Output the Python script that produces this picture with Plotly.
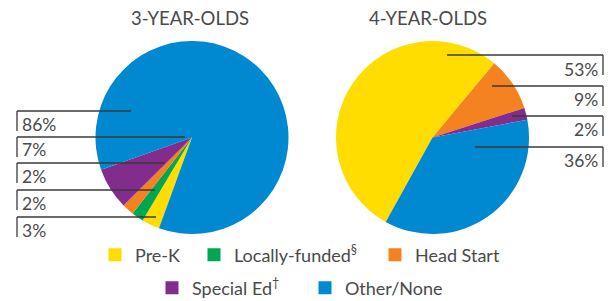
import plotly.graph_objects as go

# ---- data ----
categories = ["Pre-K", "Locally-funded", "Head Start", "Special Ed", "Other/None"]
legend_names = ["Pre-K", "Locally-funded<sup>§</sup>", "Head Start", "Special Ed<sup>†</sup>", "Other/None"]
colors = ["#FFDD00", "#00A651", "#F58220", "#822C8E", "#0089D0"]
three_year = [3, 2, 2, 7, 86]
four_year = [53, 0, 9, 2, 36]
titles = ["3-YEAR-OLDS", "4-YEAR-OLDS"]

# label order (top to bottom) for the callouts
left_label_order = ["Other/None", "Special Ed", "Head Start", "Locally-funded", "Pre-K"]
right_label_order = ["Pre-K", "Head Start", "Special Ed", "Other/None"]

W, H = 613, 301
def px(x):
    return x / W
def py(y):
    return 1 - y / H

FONT = "Lato"
TXT = "#4A4A4A"
LINE = "#3A3A3A"

fig = go.Figure()

R = 96.5
centers = [(192, 137.5), (432.5, 137.5)]
rotations = [200, 209]
for vals, (cx, cy), rot in zip([three_year, four_year], centers, rotations):
    fig.add_trace(go.Pie(
        labels=categories, values=vals, sort=False, direction="clockwise",
        rotation=rot, textinfo="none", showlegend=False,
        marker=dict(colors=colors, line=dict(width=0)),
        domain=dict(x=[px(cx - R), px(cx + R)], y=[py(cy + R), py(cy - R)]),
    ))

# legend layout: (text start x, row center y) in pixels for each entry
legend_text_x = [132, 231, 412, 189, 342]
legend_row_y = [255, 255, 255, 288, 288]

leg_layout = {}
for i, (nm, c) in enumerate(zip(legend_names, colors)):
    key = "legend" if i == 0 else f"legend{i + 1}"
    fig.add_trace(go.Scatter(
        x=[None], y=[None], mode="markers", name=nm,
        marker=dict(symbol="square", size=13, color=c),
        legend=key, hoverinfo="skip",
    ))
    leg_layout[key] = dict(
        orientation="h", xanchor="left", x=px(legend_text_x[i] - 37),
        yanchor="middle", y=py(legend_row_y[i]),
        font=dict(family=FONT, size=18, color=TXT), bgcolor="rgba(0,0,0,0)",
        borderwidth=0, itemwidth=30,
    )

shapes = []
annotations = []

# titles
for t, x in zip(titles, [190, 428]):
    annotations.append(dict(x=px(x), y=py(18), xref="paper", yref="paper", text=t,
                            showarrow=False, xanchor="center", yanchor="middle",
                            font=dict(family=FONT, size=18.5, color=TXT)))

# left callouts
left_line_y = [111, 137, 163, 190, 217]
left_line_end = [131, 185, 165, 155, 156]
for cat, ly, lx in zip(left_label_order, left_line_y, left_line_end):
    v = three_year[categories.index(cat)]
    shapes.append(dict(type="line", xref="paper", yref="paper", x0=px(17), x1=px(lx),
                       y0=py(ly), y1=py(ly), line=dict(color=LINE, width=1.3)))
    shapes.append(dict(type="line", xref="paper", yref="paper", x0=px(17), x1=px(17),
                       y0=py(ly), y1=py(ly + 20), line=dict(color=LINE, width=1.3)))
    annotations.append(dict(x=px(20), y=py(ly + 13), xref="paper", yref="paper",
                            text=f"{v}%", showarrow=False, xanchor="left", yanchor="middle",
                            font=dict(family=FONT, size=17.5, color=TXT)))

# right callouts
right_line_y = [55, 86, 116, 147]
right_line_start = [447, 492, 512, 475]
for cat, ly, lx in zip(right_label_order, right_line_y, right_line_start):
    v = four_year[categories.index(cat)]
    shapes.append(dict(type="line", xref="paper", yref="paper", x0=px(lx), x1=px(603),
                       y0=py(ly), y1=py(ly), line=dict(color=LINE, width=1.3)))
    shapes.append(dict(type="line", xref="paper", yref="paper", x0=px(603), x1=px(603),
                       y0=py(ly), y1=py(ly + 20), line=dict(color=LINE, width=1.3)))
    annotations.append(dict(x=px(600), y=py(ly + 14), xref="paper", yref="paper",
                            text=f"{v}%", showarrow=False, xanchor="right", yanchor="middle",
                            font=dict(family=FONT, size=17.5, color=TXT)))

fig.update_layout(
    width=W, height=H, margin=dict(l=0, r=0, t=0, b=0, autoexpand=False),
    paper_bgcolor="white", plot_bgcolor="white",
    xaxis=dict(visible=False), yaxis=dict(visible=False),
    shapes=shapes, annotations=annotations,
    font=dict(family=FONT, color=TXT),
    **leg_layout,
)

fig.write_html("out.html", config={"displayModeBar": False},
               post_script="document.body.style.margin='0';document.body.style.padding='0';")
